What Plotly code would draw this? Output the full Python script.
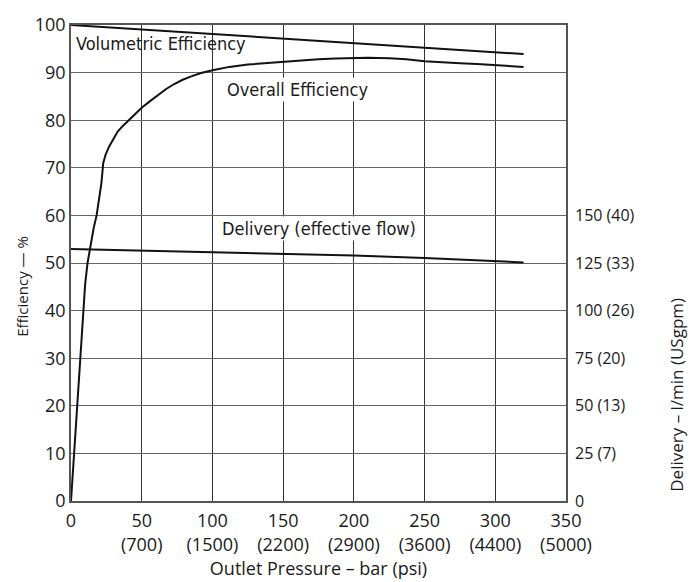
import plotly.graph_objects as go

# Outlet pressure (bar) and curve readings
vol_p = [0, 100, 200, 250, 320]
vol_eff = [100, 98.1, 96.2, 95.3, 93.9]

ovr_p = [0, 2.1, 4.5, 6.4, 8.5, 10, 11.7, 14, 16, 18.1, 20, 21.5, 22.8, 24.5, 27, 30, 33, 37, 41,
         45, 50, 55, 60, 67, 73, 79, 85, 92, 100, 112, 125, 137, 150, 162, 175, 187, 200, 210,
         225, 237, 250, 262, 275, 287, 300, 310, 320]
ovr_eff = [0, 10, 20, 30, 40, 45.5, 50, 54, 57.3, 60, 63.5, 66.8, 71.0, 72.8, 74.5, 76.2, 77.6, 78.9, 80,
           81.3, 82.6, 83.8, 85.0, 86.5, 87.6, 88.5, 89.2, 89.9, 90.5, 91.2, 91.7, 92.0, 92.3, 92.6, 92.8, 92.95, 93.05, 93.1,
           93.0, 92.8, 92.4, 92.15, 91.95, 91.8, 91.6, 91.4, 91.2]

del_p = [0, 100, 200, 250, 300, 320]
del_flow = [132.3, 130.5, 128.9, 127.6, 125.8, 125.3]  # l/min

x_ticks = [0, 50, 100, 150, 200, 250, 300, 350]
x_psi = [None, 700, 1500, 2200, 2900, 3600, 4400, 5000]
x_text = ["0" if psi is None else f"{b}<br>({psi})" for b, psi in zip(x_ticks, x_psi)]

y_ticks = list(range(0, 101, 10))
flow_ticks = [0, 25, 50, 75, 100, 125, 150]
flow_gpm = [None, 7, 13, 20, 26, 33, 40]
flow_text = ["0" if g is None else f"{f} ({g})" for f, g in zip(flow_ticks, flow_gpm)]

ink = "#1a1a1a"
tick_font = dict(family="Open Sans, sans-serif", size=18, color=ink)
label_font = dict(family="Liberation Sans Narrow, DejaVu Sans Condensed, sans-serif", size=18, color=ink)

fig = go.Figure()
line = dict(color="#111", width=2)
fig.add_trace(go.Scatter(x=vol_p, y=vol_eff, mode="lines", line=line, showlegend=False))
fig.add_trace(go.Scatter(x=ovr_p, y=ovr_eff, mode="lines", line=line, showlegend=False))
fig.add_trace(go.Scatter(x=del_p, y=del_flow, mode="lines", line=line, yaxis="y2", showlegend=False))

fig.add_annotation(x=2, y=96.2, text="Volumetric Efficiency", showarrow=False, xanchor="left",
                   yanchor="middle", font=label_font)
fig.add_annotation(x=160, y=86.5, text="Overall Efficiency", showarrow=False, xanchor="center",
                   yanchor="middle", font=label_font, bgcolor="white")
fig.add_annotation(x=175, y=57.3, text="Delivery (effective flow)", showarrow=False, xanchor="center",
                   yanchor="middle", font=label_font, bgcolor="white")

# Axis titles placed beside the plot area
fig.add_annotation(xref="paper", yref="paper", x=-0.099, y=0.452, text="Efficiency — %",
                   textangle=-90, showarrow=False, xanchor="center", yanchor="middle",
                   font=dict(family="Open Sans, sans-serif", size=15, color=ink))
fig.add_annotation(xref="paper", yref="paper", x=1.224, y=0.223, text="Delivery – l/min (USgpm)",
                   textangle=-90, showarrow=False, xanchor="center", yanchor="middle",
                   font=dict(family="Open Sans, sans-serif", size=17, color=ink))

fig.update_layout(
    width=700, height=582,
    margin=dict(l=71, r=134, t=15, b=80),
    paper_bgcolor="white", plot_bgcolor="white",
    xaxis=dict(range=[0, 350], tickvals=x_ticks, ticktext=x_text, tickfont=tick_font,
               showgrid=True, gridcolor="#333", gridwidth=1.2, zeroline=False,
               showline=True, linecolor="#555", linewidth=1.5, mirror=True, ticks="",
               ticklabelstandoff=3,
               title=dict(text="Outlet Pressure – bar (psi)", font=tick_font, standoff=2)),
    yaxis=dict(range=[0, 100], tickvals=y_ticks, tickfont=tick_font,
               showgrid=True, gridcolor="#666", gridwidth=1.2, zeroline=False,
               showline=True, linecolor="#555", linewidth=1.5, mirror=True, ticks=""),
    yaxis2=dict(range=[0, 250], overlaying="y", side="right", tickvals=flow_ticks, ticktext=flow_text,
                tickfont=dict(family="Open Sans, sans-serif", size=16, color=ink),
                showgrid=False, zeroline=False, ticks="", ticklabelstandoff=8),
)

fig.write_html("out.html")
